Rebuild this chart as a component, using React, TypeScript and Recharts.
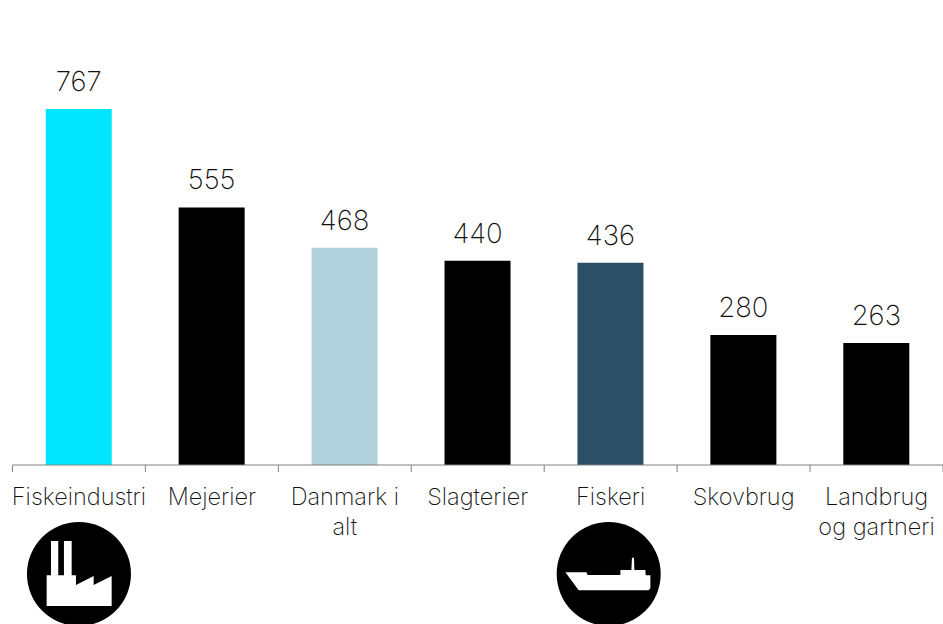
import React from "react";
import { BarChart, Bar, XAxis, YAxis, Cell, LabelList } from "recharts";

const categories = ["Fiskeindustri", "Mejerier", "Danmark i alt", "Slagterier", "Fiskeri", "Skovbrug", "Landbrug og gartneri"];
const values = [767, 555, 468, 440, 436, 280, 263];
const colors = ["#00E5FF", "#000000", "#B2D2DD", "#000000", "#2B4F66", "#000000", "#000000"];
const labelLines: Record<string, string[]> = {
  "Danmark i alt": ["Danmark i", "alt"],
  "Landbrug og gartneri": ["Landbrug", "og gartneri"],
};
const icons: Record<string, string> = {
  Fiskeindustri: "factory",
  Fiskeri: "ship",
};
const data = categories.map((name, i) => ({ name, value: values[i] }));

const FONT = "Inter, Lato, sans-serif";
const TEXT = "#111111";
const AXIS = "#808080";

const factoryPath = "M-32.3 32V1.3H-28V-33H-20.7V1.3H-15V-33H-7.3V1.3H-3V11L14.7 2V11L32.7 2V32Z";
const shipPath = "M-43.3 -1.7H-22.3L-21 1H11.7V-4H22.7L23.3 -16.3H25.3L25.7 -4H36.7L37 1.3H41.7V14.3L40 16.3H-30Z";

function Tick(props: any) {
  const { x, y, payload, index, visibleTicksCount } = props;
  const step = 133;
  const lines = labelLines[payload.value] ?? [payload.value];
  const icon = icons[payload.value];
  const axisY = y - 8;
  return (
    <g>
      <line x1={x - step / 2} x2={x - step / 2} y1={axisY} y2={axisY + 7} stroke={AXIS} />
      {index === visibleTicksCount - 1 && (
        <line x1={x + step / 2} x2={x + step / 2} y1={axisY} y2={axisY + 7} stroke={AXIS} />
      )}
      <text x={x} textAnchor="middle" fontFamily={FONT} fontSize={23.5} fontWeight={200} fill={TEXT}>
        {lines.map((t: string, i: number) => (
          <tspan key={i} x={x} y={axisY + 40 + i * 29.5}>{t}</tspan>
        ))}
      </text>
      {icon && (
        <g transform={`translate(${icon === "ship" ? x - 2 : x},${axisY + 109})`}>
          <circle r={52} fill="#000" />
          <path d={icon === "factory" ? factoryPath : shipPath} fill="#fff" />
        </g>
      )}
    </g>
  );
}

export default function App() {
  return (
    <div style={{ position: "absolute", left: 0, top: 0 }}>
      <BarChart
        width={943}
        height={624}
        data={data}
        margin={{ top: 1, right: 0, bottom: 0, left: 12.5 }}
        barCategoryGap="25%"
      >
        <YAxis hide domain={[0, 1000]} />
        <XAxis
          dataKey="name"
          axisLine={{ stroke: AXIS, strokeWidth: 1 }}
          tickLine={false}
          interval={0}
          tick={<Tick />}
          height={159}
        />
        <Bar dataKey="value" isAnimationActive={false}>
          {data.map((d, i) => (
            <Cell key={d.name} fill={colors[i]} />
          ))}
          <LabelList
            dataKey="value"
            position="top"
            offset={18}
            fontFamily={FONT}
            fontSize={27.5}
            fontWeight={200}
            fill={TEXT}
          />
        </Bar>
      </BarChart>
    </div>
  );
}
